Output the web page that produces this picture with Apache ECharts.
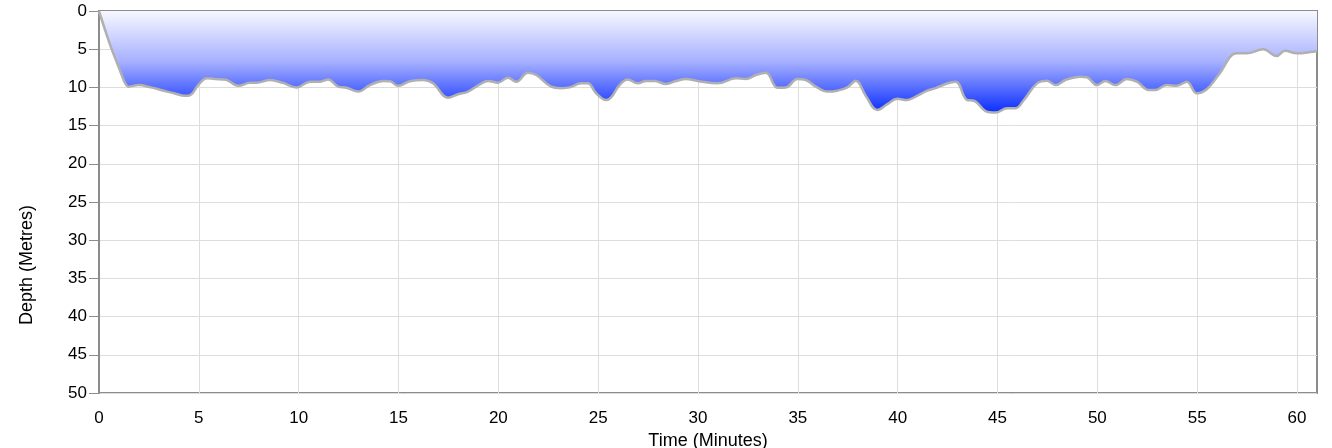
<!DOCTYPE html>
<html>
<head>
<meta charset="utf-8">
<script src="https://cdn.jsdelivr.net/npm/echarts@6/dist/echarts.min.js"></script>
<style>html,body{margin:0;padding:0;background:#fff;}#c{width:1332px;height:448px;}</style>
</head>
<body>
<div id="c"></div>
<script>
const times = [0,0.37,0.62,0.98,1.3,1.48,1.98,2.6,3.2,3.8,4.3,4.57,5.0,5.4,5.8,6.2,6.37,6.98,7.57,7.9,8.57,9.2,9.9,10.57,11.07,11.48,11.98,12.4,12.98,13.57,14.23,14.57,14.98,15.57,16.23,16.73,17.48,17.98,18.48,19.07,19.48,19.98,20.48,20.9,21.48,21.9,22.65,23.15,23.57,24.15,24.48,24.9,25.4,25.65,26.07,26.48,26.98,27.4,27.82,28.4,28.9,29.4,29.98,30.98,31.9,32.4,32.9,33.4,33.98,34.4,34.98,35.4,35.9,36.48,36.98,37.48,37.9,38.4,38.98,39.48,39.98,40.48,40.9,41.48,41.9,42.4,42.9,43.48,43.82,44.4,44.9,45.48,45.9,46.32,46.98,47.48,47.9,48.4,49.15,49.48,49.98,50.4,50.9,51.48,51.98,52.57,52.9,53.48,53.98,54.48,54.98,55.48,56.07,56.98,57.48,58.3,58.98,59.4,59.98,60.8,61];
const depths = [0,3.0,4.9,7.3,9.4,9.9,9.7,10.0,10.4,10.8,11.1,11.0,9.6,8.8,8.9,8.95,9.0,9.8,9.4,9.4,9.03,9.4,10.0,9.25,9.25,8.95,9.9,10.05,10.55,9.7,9.16,9.2,9.8,9.2,9.03,9.47,11.35,10.9,10.55,9.6,9.16,9.38,8.73,9.25,8.07,8.38,9.9,10.1,10.0,9.47,9.47,10.77,11.65,11.3,9.7,8.95,9.47,9.16,9.16,9.55,9.16,8.9,9.16,9.47,8.8,8.9,8.38,8.07,10.03,10.0,8.9,9.03,9.9,10.55,10.43,10.0,9.12,11.08,12.96,12.2,11.5,11.65,11.2,10.43,10.1,9.55,9.25,11.65,11.74,13.09,13.3,12.74,12.74,11.65,9.47,9.12,9.7,9.03,8.6,8.68,9.7,9.16,9.7,8.9,9.25,10.34,10.34,9.7,9.78,9.25,10.77,10.25,8.38,5.54,5.54,5.02,5.9,5.2,5.54,5.33,5.25];
const xTicks = [0,5,10,15,20,25,30,35,40,45,50,55,60];
const xName = 'Time (Minutes)';
const yName = 'Depth (Metres)';

const font = 'Liberation Sans, Arial, Helvetica, sans-serif';
const chart = echarts.init(document.getElementById('c'), null, {renderer: 'canvas'});
chart.setOption({
  animation: false,
  grid: {left: 99, right: 15, top: 11, bottom: 55, containLabel: false, outerBoundsMode: 'none', show: true, borderColor: '#8c8c8c', borderWidth: 2, backgroundColor: 'transparent'},
  xAxis: {
    type: 'value', min: 0, max: 61, interval: 5,
    name: xName, nameLocation: 'middle', nameGap: 37,
    nameTextStyle: {color: '#000', fontSize: 18, fontFamily: font},
    axisLine: {show: true, lineStyle: {color: '#8c8c8c', width: 2}},
    axisTick: {show: true, length: 10, inside: false, lineStyle: {color: '#8c8c8c', width: 1}, customValues: xTicks},
    axisLabel: {color: '#000', fontSize: 17, fontFamily: font, margin: 17, customValues: xTicks},
    splitLine: {show: true, lineStyle: {color: '#dddddd', width: 1}}
  },
  yAxis: {
    type: 'value', min: 0, max: 50, interval: 5, inverse: true,
    axisLine: {show: true, lineStyle: {color: '#8c8c8c', width: 2}},
    axisTick: {show: true, length: 10, inside: false, lineStyle: {color: '#8c8c8c', width: 1}},
    axisLabel: {color: '#000', fontSize: 17, fontFamily: font, margin: 12},
    splitLine: {show: true, lineStyle: {color: '#dddddd', width: 1}}
  },
  graphic: [{
    type: 'text', x: 27, y: 265, rotation: Math.PI / 2,
    style: {text: yName, fill: '#000', fontSize: 18, fontFamily: font, align: 'center', verticalAlign: 'middle'}
  }],
  series: [{
    type: 'line',
    data: times.map((t, i) => [t, depths[i]]),
    smooth: 0.4,
    symbol: 'none',
    lineStyle: {color: '#b0b0b0', width: 2.5},
    areaStyle: {
      origin: 'start',
      color: new echarts.graphic.LinearGradient(0, 0, 0, 1, [
        {offset: 0, color: '#f8f8ff'},
        {offset: 0.5, color: '#a6b0ff'},
        {offset: 1, color: '#0a2dff'}
      ]),
      opacity: 1
    }
  }]
});
</script>
</body>
</html>
